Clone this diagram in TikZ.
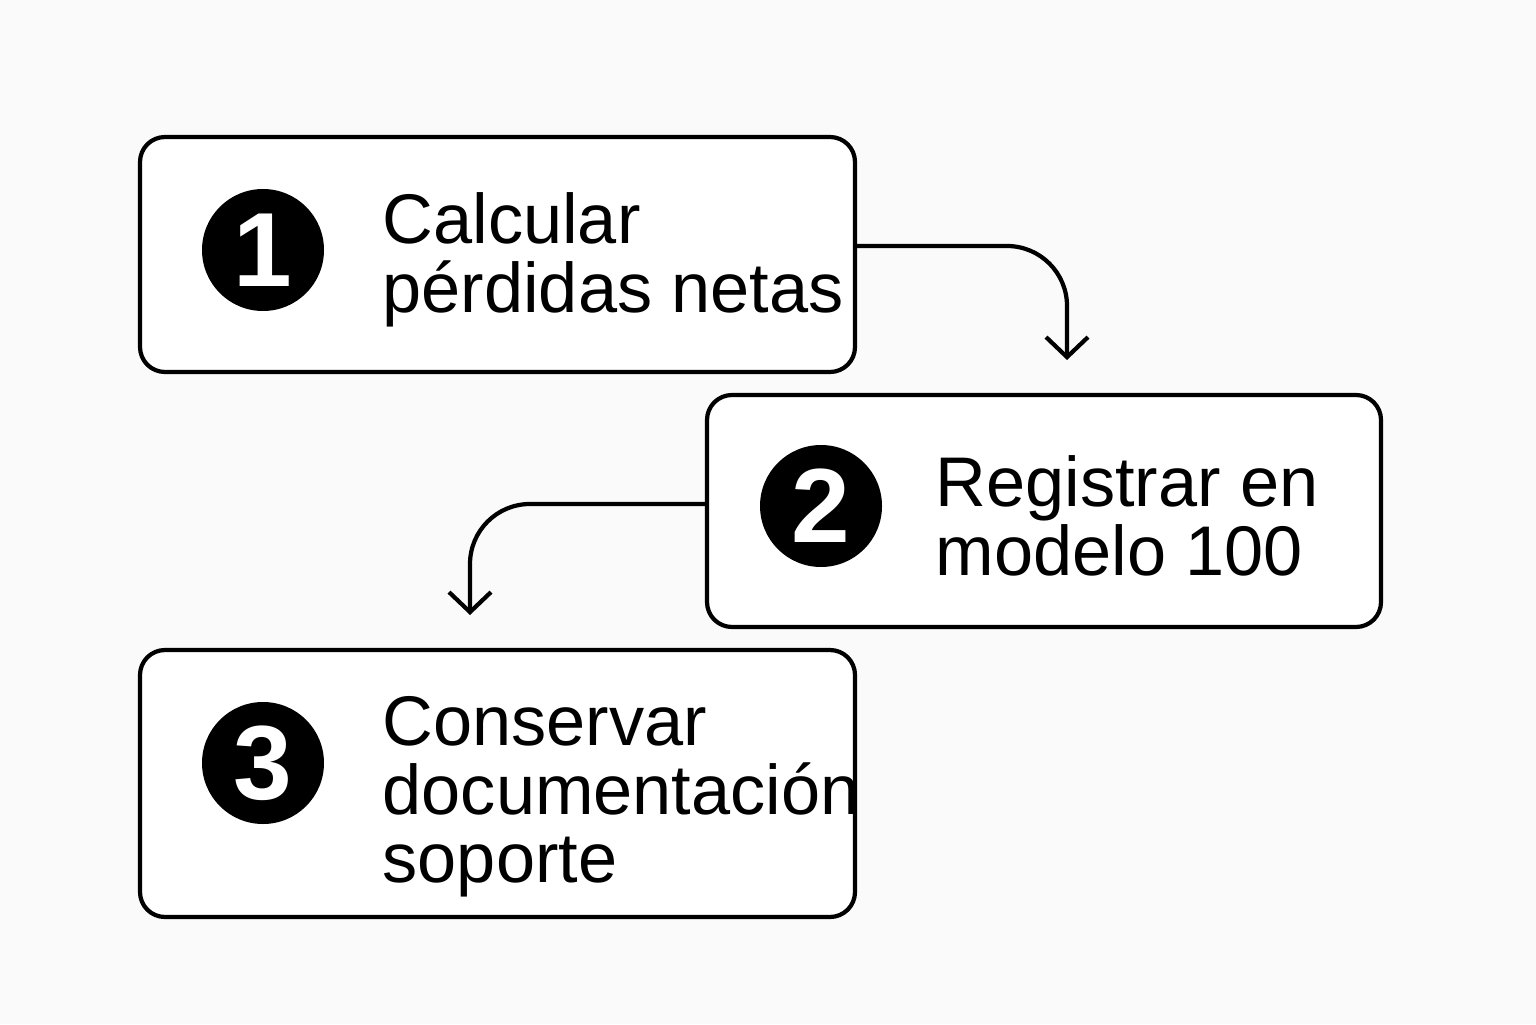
\documentclass[tikz,border=0pt]{standalone}
\usepackage{fontspec}
\setmainfont{Liberation Sans}
\usetikzlibrary{positioning,arrows.meta}
\definecolor{bgwhite}{RGB}{250, 250, 250}

\begin{document}
\begin{tikzpicture}[
        % Node styles
        stepbox/.style={draw=black, line width=1.2pt, rounded corners=0.25cm, fill=white},
        badge/.style={circle, fill=black, minimum size=1.22cm, inner sep=0pt, text=white, font=\fontsize{30}{30}\selectfont\bfseries},
        label/.style={anchor=west, align=left, inner sep=0pt, font=\fontsize{20}{19.5}\selectfont},
        flow/.style={-{Straight Barb[length=2mm,width=4.2mm]}, line width=1.2pt, rounded corners=0.6cm}
    ]
    \fill[bgwhite] (0,0) rectangle (15.36,10.24);
    \useasboundingbox (0,0) rectangle (15.36,10.24);

    % Boxes
    \node[stepbox, minimum width=7.15cm, minimum height=2.35cm] (b1) at (4.975, 7.695) {};
    \node[stepbox, minimum width=6.74cm, minimum height=2.32cm] (b2) at (10.44, 5.13) {};
    \node[stepbox, minimum width=7.15cm, minimum height=2.67cm] (b3) at (4.975, 2.405) {};

    % Numbers
    \node[badge] (n1) at (2.63, 7.74) {1};
    \node[badge] (n2) at (8.21, 5.18) {2};
    \node[badge] (n3) at (2.63, 2.61) {3};

    % Labels
    \node[label] (t1) at (3.82, 7.64) {Calcular\\pérdidas netas};
    \node[label] (t2) at (9.35, 5.08) {Registrar en\\modelo 100};
    \node[label] (t3) at (3.82, 2.27) {Conservar\\documentación\\soporte};

    % Connectors
    \coordinate (tip1) at (10.67, 6.64);
    \coordinate (tip2) at (4.70, 4.09);
    \draw[flow] ([yshift=0.85mm]b1.east) -| (tip1);
    \draw[flow] ([yshift=0.7mm]b2.west) -| (tip2);

\end{tikzpicture}
\end{document}
